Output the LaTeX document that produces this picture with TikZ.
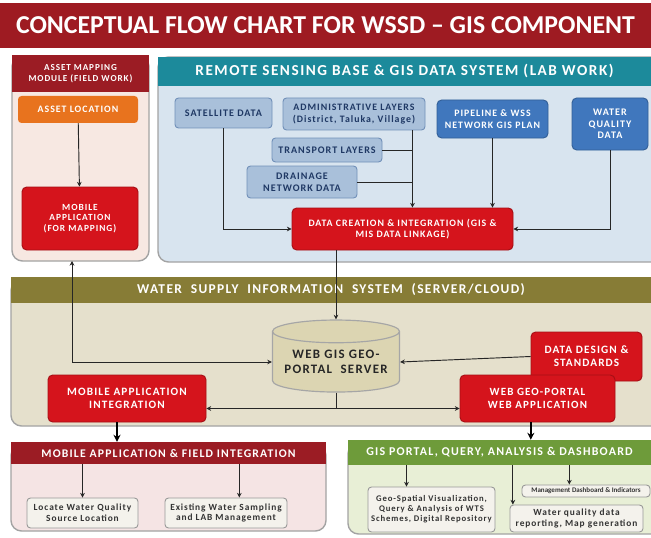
\documentclass[tikz,border=0pt]{standalone}
\usepackage{fontspec}
\setmainfont{Carlito}
\newfontfamily\wf[LetterSpace=10]{Carlito}
\usetikzlibrary{shapes.geometric,arrows.meta,calc}

\definecolor{titlered}{HTML}{9E1B22}
\definecolor{hdrred}{HTML}{9B1C24}
\definecolor{boxred}{HTML}{D5141C}
\definecolor{boxredln}{HTML}{A50F15}
\definecolor{orangebx}{HTML}{E8731E}
\definecolor{pinkbody}{HTML}{F7E8E2}
\definecolor{teal}{HTML}{1C8A9B}
\definecolor{bluebody}{HTML}{D8E4EF}
\definecolor{ltblue}{HTML}{A9C0DA}
\definecolor{ltblueln}{HTML}{7190B8}
\definecolor{dkblue}{HTML}{4077BD}
\definecolor{navy}{HTML}{1F3864}
\definecolor{olive}{HTML}{877C36}
\definecolor{tanbody}{HTML}{E5E0CC}
\definecolor{cylfill}{HTML}{DCD5B2}
\definecolor{pinkbody2}{HTML}{F5E4E4}
\definecolor{greenhdr}{HTML}{6E9B3A}
\definecolor{greenbody}{HTML}{E8EFD6}
\definecolor{paper}{HTML}{F4F2EC}
\definecolor{panelln}{HTML}{A3A3A3}

% box from corner (x1,y1) to corner (x2,y2), in pixel units
\newcommand\bx[7]{%
  \node[#6, minimum width={(#4-#2)*0.03cm}, minimum height={(#5-#3)*0.03cm},
        inner sep=0pt, align=center] (#1) at ({(#2+#4)/2},{(#3+#5)/2}) {#7};}
% bold tracked label font of a given size
\newdimen\fszskip
\newcommand\fsz[1]{\fszskip=#1pt \fszskip=1.15\fszskip
  \wf\bfseries\fontsize{#1}{\the\fszskip}\selectfont}

\tikzset{
  panel/.style={draw=panelln, line width=1.2pt, rounded corners=9pt},
  hdr/.style={text=white},
  redbox/.style={draw=boxredln, fill=boxred, rounded corners=4pt, line width=0.8pt,
    text=white},
  lbbox/.style={draw=ltblueln, fill=ltblue, rounded corners=3pt, line width=0.8pt,
    text=navy},
  dbbox/.style={draw=dkblue!80!black, fill=dkblue, rounded corners=4pt, line width=0.8pt,
    text=white},
  notebox/.style={draw=gray!80, fill=paper, rounded corners=3pt, line width=0.8pt,
    text=black!80},
  conn/.style={draw=black!85, line width=0.8pt},
  arr/.style={conn, -{Stealth[length=4pt,width=4pt]}},
  barr/.style={conn, {Stealth[length=4pt,width=4pt]}-{Stealth[length=4pt,width=4pt]}},
  thick arr/.style={draw=black, line width=1.6pt, -{Stealth[length=6pt,width=6pt]}},
}

\begin{document}
\begin{tikzpicture}[x=0.03cm, y=-0.03cm]
\useasboundingbox (0,0) rectangle (651,537);
\fill[white] (0,0) rectangle (651,537);

% title bar
\bx{title}{0}{3}{651}{48}{fill=titlered, text=white, font=\bfseries\fontsize{22}{24}\selectfont}{CONCEPTUAL  FLOW CHART FOR WSSD -- GIS COMPONENT}

% ---- asset mapping module (left) ----
\draw[panel, fill=pinkbody] (12,56) rectangle (149,261);
\bx{amhdr}{12}{55}{149}{92}{fill=hdrred, hdr, font=\fsz{7.8}}{ASSET MAPPING\\MODULE (FIELD WORK)}
\bx{asset}{18}{96}{138}{123}{fill=orangebx, rounded corners=3pt, text=white, font=\fsz{8.4}}{ASSET LOCATION}
\bx{mobapp}{22}{187}{138}{250}{redbox, font=\fsz{8}}{MOBILE\\APPLICATION\\(FOR MAPPING)}
\coordinate (ampb) at (72,261);

% ---- remote sensing base (top right) ----
\draw[panel, fill=bluebody] (158,57) rectangle (662,262);
\bx{rshdr}{158}{57}{651}{86}{fill=teal, hdr, font=\fsz{13}}{REMOTE SENSING BASE \& GIS DATA SYSTEM (LAB WORK)}
\bx{sat}{175}{98}{272}{128}{lbbox, font=\fsz{8.6}}{SATELLITE DATA}
\bx{admin}{283}{98}{425}{130}{lbbox, font=\fsz{8.4}}{ADMINISTRATIVE LAYERS\\(District, Taluka, Village)}
\bx{pipe}{437}{100}{548}{138}{dbbox, font=\fsz{8.4}}{PIPELINE \& WSS\\NETWORK GIS PLAN}
\bx{wq}{572}{98}{648}{150}{dbbox, font=\fsz{8.6}}{WATER\\QUALITY\\DATA}
\bx{trans}{272}{138}{382}{162}{lbbox, font=\fsz{8.6}}{TRANSPORT LAYERS}
\bx{drain}{247}{166}{357}{198}{lbbox, font=\fsz{8.6}}{DRAINAGE\\NETWORK DATA}
\bx{dci}{292}{208}{513}{250}{redbox, font=\fsz{8.4}}{DATA CREATION \& INTEGRATION (GIS \&\\MIS DATA LINKAGE)}

% ---- water supply information system ----
\draw[panel, fill=tanbody] (11,280) rectangle (662,426);
\bx{wsis}{11}{277}{651}{303}{fill=olive, hdr, font=\fsz{11.5}}{WATER \ SUPPLY \ INFORMATION \ SYSTEM \ (SERVER/CLOUD)}
\node[cylinder, shape border rotate=90, aspect=0.22, draw=gray!70, line width=1pt,
      fill=cylfill, minimum width=127*0.03cm, minimum height=72*0.03cm, inner sep=0pt,
      align=center, text=black!85, font=\fsz{11}]
      (server) at (336,362) {WEB GIS GEO-\\PORTAL \ SERVER};
\bx{ddes}{531}{332}{642}{381}{redbox, font=\fsz{9.6}}{DATA DESIGN \&\\STANDARDS}
\bx{mai}{48}{375}{206}{422}{redbox, font=\fsz{9.6}}{MOBILE APPLICATION\\INTEGRATION}
\bx{wgp}{460}{375}{615}{422}{redbox, font=\fsz{9.4}}{WEB GEO-PORTAL\\WEB APPLICATION}

% ---- mobile application & field integration (bottom left) ----
\draw[panel, fill=pinkbody2] (11,445) rectangle (326,531);
\bx{mfhdr}{11}{442}{326}{464}{fill=hdrred, hdr, font=\fsz{10}}{MOBILE APPLICATION \& FIELD INTEGRATION}
\bx{locq}{27}{498}{138}{528}{notebox, font=\fsz{8}}{Locate Water Quality\\Source Location}
\bx{samp}{165}{498}{287}{528}{notebox, font=\fsz{8}}{Existing Water Sampling\\and LAB Management}

% ---- gis portal, query, analysis & dashboard (bottom right) ----
\draw[panel, fill=greenbody] (348,443) rectangle (662,534);
\bx{gphdr}{348}{440}{651}{465}{fill=greenhdr, hdr, font=\fsz{10.2}}{GIS PORTAL, QUERY, ANALYSIS \& DASHBOARD}
\bx{geov}{368}{487}{495}{532}{notebox, font=\fsz{7.4}}{Geo-Spatial Visualization,\\Query \& Analysis of WTS\\Schemes, Digital Repository}
\bx{wqrep}{510}{505}{643}{532}{notebox, font=\fsz{8}}{Water quality data\\reporting, Map generation}
\bx{dash}{522}{485}{650}{497}{notebox, font=\bfseries\fontsize{6}{7}\selectfont}{Management Dashboard \& Indicators}

% ---- connectors: lab work ----
\coordinate (admdrop) at ([xshift=-0.39cm]admin.south east);
\draw[arr] (asset) -- (mobapp);
\draw[arr] (sat.south) |- (dci.west);
\draw[arr] (wq.south) |- (dci.east);
\draw[arr] (admdrop) -- (admdrop |- dci.north);
\draw[conn] (trans.east) -- (trans.east -| admdrop);
\draw[conn] (drain.east) -- (drain.east -| admdrop);
\draw[arr] (pipe.south) -- (pipe.south |- dci.north);

% ---- connectors: server ----
\draw[arr] (server.north |- dci.south) -- (server.north);
\draw[barr] (ampb) |- (server.west);
\draw[arr] (ddes.west) -- (server.east);
\coordinate (hub) at ([yshift=-0.3cm]mai.east -| server.south);
\draw[conn] (server.south) -- (hub);
\draw[arr] (hub) -- (hub -| mai.east);
\draw[arr] (hub) -- (hub -| wgp.west);

% ---- connectors: outputs ----
\draw[thick arr] ([xshift=-0.3cm]mai.south) -- ([xshift=-0.3cm]mai.south |- mfhdr.north);
\draw[thick arr] ([xshift=-0.2cm]wgp.south) -- ([xshift=-0.2cm]wgp.south |- gphdr.north);
\draw[arr] (locq.north |- mfhdr.south) -- (locq.north);
\draw[arr] ([xshift=0.4cm]samp.north |- mfhdr.south) -- ([xshift=0.4cm]samp.north);
\draw[arr] ([xshift=-0.75cm]geov.north |- gphdr.south) -- ([xshift=-0.75cm]geov.north);
\draw[arr] ([xshift=0.1cm]wqrep.north west |- gphdr.south) -- ([xshift=0.1cm]wqrep.north west);
\draw[arr] ([xshift=-0.5cm]dash.north |- gphdr.south) -- ([xshift=-0.5cm]dash.north);
\end{tikzpicture}
\end{document}
